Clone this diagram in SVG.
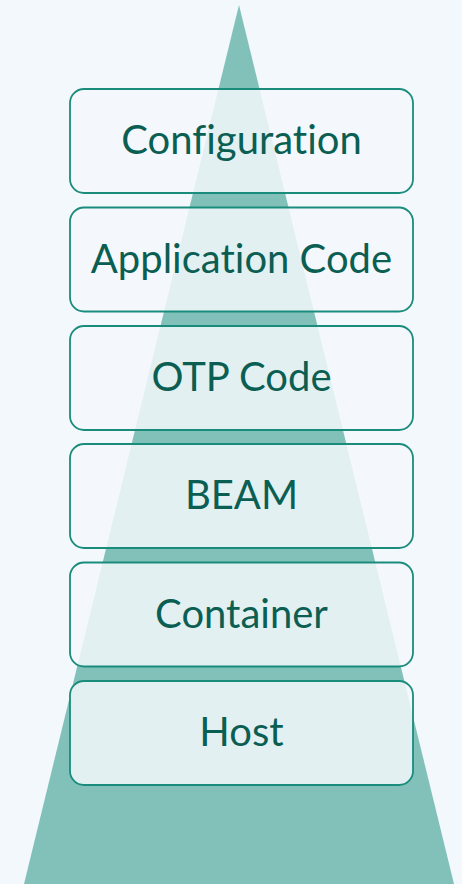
<svg xmlns="http://www.w3.org/2000/svg" width="462" height="884" viewBox="0 0 462 884">
<style>
.box{fill:#f3f8fc;fill-opacity:0.85;stroke:#1a8c7c;stroke-width:1.8}
.lbl{font-family:Lato,"Open Sans",sans-serif;font-size:40px;fill:#0b5e52;text-anchor:middle;font-variant-ligatures:none}
</style>
<rect width="462" height="884" fill="#f3f8fc"/>
<polygon points="239,5 24,884 454,884" fill="#82c1ba"/>
<g id="configuration"><rect class="box" x="70" y="89" width="343" height="104" rx="14"/><text class="lbl" x="241.5" y="154">Configuration</text></g>
<g id="application-code"><rect class="box" x="70" y="207.5" width="343" height="104" rx="14"/><text class="lbl" x="241.5" y="272.5">Application Code</text></g>
<g id="otp-code"><rect class="box" x="70" y="326" width="343" height="104" rx="14"/><text class="lbl" x="241.5" y="391">OTP Code</text></g>
<g id="beam"><rect class="box" x="70" y="444" width="343" height="104" rx="14"/><text class="lbl" x="241.5" y="509">BEAM</text></g>
<g id="container"><rect class="box" x="70" y="562.5" width="343" height="104" rx="14"/><text class="lbl" x="241.5" y="627.5">Container</text></g>
<g id="host"><rect class="box" x="70" y="681" width="343" height="104" rx="14"/><text class="lbl" x="241.5" y="746">Host</text></g>
<g id="connectors"/>
</svg>
